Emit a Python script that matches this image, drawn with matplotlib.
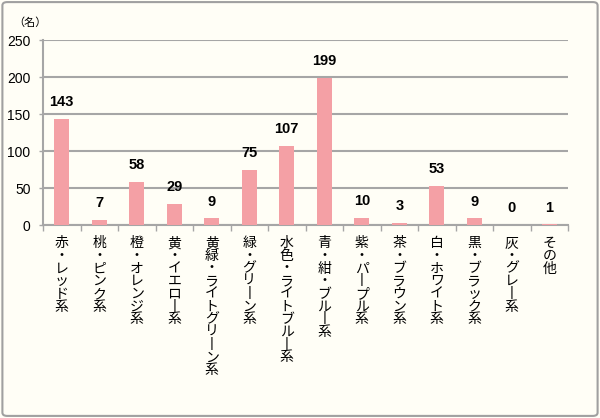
import matplotlib.pyplot as plt
from matplotlib.patches import FancyBboxPatch

plt.rcParams['font.family'] = ['Noto Sans CJK JP', 'DejaVu Sans']

categories = ['赤・レッド系', '桃・ピンク系', '橙・オレンジ系', '黄・イエロー系',
              '黄緑・ライトグリーン系', '緑・グリーン系', '水色・ライトブルー系',
              '青・紺・ブルー系', '紫・パープル系', '茶・ブラウン系', '白・ホワイト系',
              '黒・ブラック系', '灰・グレー系', 'その他']
counts = [143, 7, 58, 29, 9, 75, 107, 199, 10, 3, 53, 9, 0, 1]
y_ticks = [0, 50, 100, 150, 200, 250]
unit_label = '（名）'

bg = '#FFFEF6'
bar_color = '#F4A0A5'
grid_color = '#A6A6A6'

fig = plt.figure(figsize=(6, 4.18), dpi=100)
fig.patch.set_facecolor(bg)
frame = FancyBboxPatch((0.004, 0.005), 0.992, 0.99, boxstyle='round,pad=0,rounding_size=0.008',
                       transform=fig.transFigure, facecolor='none', edgecolor='#A0A0A0',
                       linewidth=1.5)
fig.patches.append(frame)

ax = fig.add_axes([0.0717, 0.4617, 0.875, 0.4426])
ax.set_facecolor(bg)

x = list(range(len(categories)))
ax.bar(x, counts, width=0.4, color=bar_color, zorder=3)
for xi, v in zip(x, counts):
    ax.annotate(str(v), (xi, v), xytext=(0, 7), textcoords='offset points',
                ha='center', va='bottom', fontsize=10.5, fontweight='bold',
                family='Liberation Sans', color='#000000')

ax.set_xlim(-0.5, len(categories) - 0.5)
ax.set_ylim(0, 250)
ax.set_yticks(y_ticks)
ax.yaxis.grid(True, color=grid_color, linewidth=1.5, zorder=0)
ax.tick_params(axis='y', length=3, color=grid_color, width=1, labelsize=10, pad=6)
ax.set_yticklabels([str(t) for t in y_ticks], family='Liberation Sans')

ax.set_xticks([i - 0.5 for i in range(len(categories) + 1)])
ax.set_xticklabels([])
ax.tick_params(axis='x', length=4, color=grid_color, width=1)

for s in ['top', 'right']:
    ax.spines[s].set_visible(False)
for s in ['left', 'bottom']:
    ax.spines[s].set_color(grid_color)
    ax.spines[s].set_linewidth(1.5)

for xi, name in zip(x, categories):
    vert = '\n'.join('丨' if c == 'ー' else c for c in name)
    ax.annotate(vert, (xi, 0), xytext=(0, -8), textcoords='offset points',
                ha='center', va='top', fontsize=10, linespacing=0.88,
                annotation_clip=False)

fig.text(0.022, 0.945, unit_label, fontsize=8, ha='left', va='center')

fig.savefig('out.png', dpi=100, facecolor=bg)
